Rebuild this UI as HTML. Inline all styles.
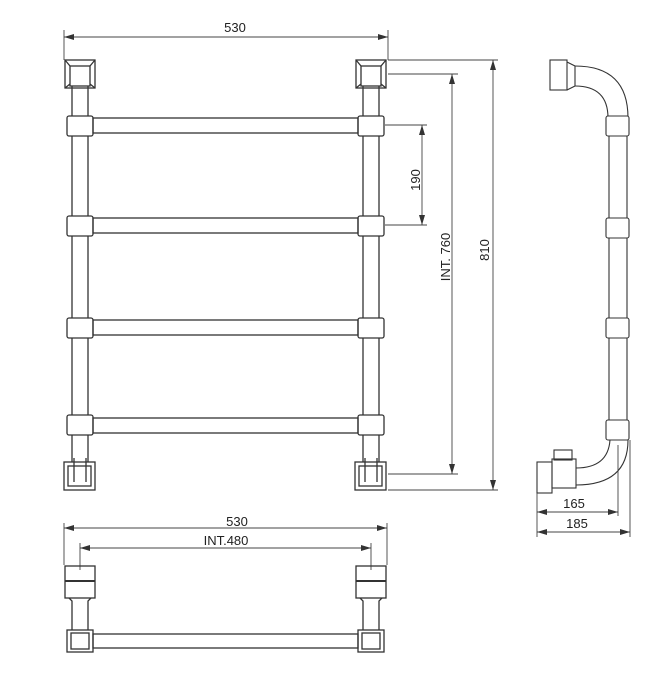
<!DOCTYPE html>
<html><head><meta charset="utf-8"><style>
html,body{margin:0;padding:0;background:#fff;}
svg{display:block;}
text{font-family:"Liberation Sans",sans-serif;font-size:13px;fill:#222;}
</style></head><body>
<svg width="671" height="685" viewBox="0 0 671 685" xmlns="http://www.w3.org/2000/svg">
<defs>
<marker id="a" viewBox="0 0 10 6" refX="10" refY="3" markerWidth="10" markerHeight="6" orient="auto-start-reverse" markerUnits="userSpaceOnUse"><path d="M0,0 L10,3 L0,6 z" fill="#333"/></marker>
</defs>
<g fill="none" stroke="#333" stroke-width="1.3">
<!-- front view posts -->
<g id="post">
<rect x="65" y="60" width="30" height="28"/>
<rect x="70" y="66" width="20" height="20"/>
<line x1="65" y1="60" x2="70" y2="66"/><line x1="95" y1="60" x2="90" y2="66"/>
<line x1="65" y1="88" x2="70" y2="84"/><line x1="95" y1="88" x2="90" y2="84"/>
<line x1="72" y1="86" x2="72" y2="462"/><line x1="88" y1="86" x2="88" y2="462"/>
<rect x="67" y="116" width="26" height="20" rx="2" fill="#fff"/>
<rect x="67" y="216" width="26" height="20" rx="2" fill="#fff"/>
<rect x="67" y="318" width="26" height="20" rx="2" fill="#fff"/>
<rect x="67" y="415" width="26" height="20" rx="2" fill="#fff"/>
<rect x="64" y="462" width="31" height="28"/>
<rect x="68" y="466" width="23" height="20"/>
<line x1="74" y1="458" x2="74" y2="482"/><line x1="86" y1="458" x2="86" y2="482"/>
</g>
<use href="#post" x="291"/>
<!-- rails -->
<rect x="93" y="118" width="265" height="15"/>
<rect x="93" y="218" width="265" height="15"/>
<rect x="93" y="320" width="265" height="15"/>
<rect x="93" y="418" width="265" height="15"/>
</g>
<g fill="none" stroke="#444" stroke-width="0.9">
<!-- 530 top -->
<line x1="64" y1="30" x2="64" y2="60"/><line x1="388" y1="30" x2="388" y2="60"/>
<line x1="64" y1="37" x2="388" y2="37" marker-start="url(#a)" marker-end="url(#a)"/>
<!-- 190 -->
<line x1="385" y1="125" x2="427" y2="125"/><line x1="385" y1="225" x2="427" y2="225"/>
<line x1="422" y1="125" x2="422" y2="225" marker-start="url(#a)" marker-end="url(#a)"/>
<!-- INT 760 -->
<line x1="388" y1="74" x2="458" y2="74"/><line x1="388" y1="474" x2="458" y2="474"/>
<line x1="452" y1="74" x2="452" y2="474" marker-start="url(#a)" marker-end="url(#a)"/>
<!-- 810 -->
<line x1="388" y1="60" x2="498" y2="60"/><line x1="388" y1="490" x2="498" y2="490"/>
<line x1="493" y1="60" x2="493" y2="490" marker-start="url(#a)" marker-end="url(#a)"/>
</g>
<text x="235" y="32" text-anchor="middle">530</text>
<text transform="translate(420,180) rotate(-90)" text-anchor="middle">190</text>
<text transform="translate(450,257) rotate(-90)" text-anchor="middle">INT. 760</text>
<text transform="translate(489,250) rotate(-90)" text-anchor="middle">810</text>

<!-- side view -->
<g fill="none" stroke="#333" stroke-width="1.1">
<rect x="550" y="60" width="17" height="30"/>
<path d="M567,62 L575,66 L575,86 L567,90"/>
<path d="M575,66 Q628,66 628,118"/>
<path d="M575,86 Q608,86 608,118"/>
<line x1="609" y1="136" x2="609" y2="420"/><line x1="627" y1="136" x2="627" y2="420"/>
<rect x="606" y="116" width="23" height="20" rx="2" fill="#fff"/>
<rect x="606" y="218" width="23" height="20" rx="2" fill="#fff"/>
<rect x="606" y="318" width="23" height="20" rx="2" fill="#fff"/>
<rect x="606" y="420" width="23" height="20" rx="2" fill="#fff"/>
<path d="M628,440 Q628,485 576,485"/>
<path d="M610,440 Q608,468 576,468"/>
<rect x="537" y="462" width="15" height="31"/>
<rect x="552" y="459" width="24" height="29"/>
<rect x="554" y="450" width="18" height="10"/>
</g>
<g fill="none" stroke="#444" stroke-width="0.9">
<line x1="537" y1="493" x2="537" y2="537"/>
<line x1="618" y1="445" x2="618" y2="516"/>
<line x1="630" y1="440" x2="630" y2="537"/>
<line x1="537" y1="512" x2="618" y2="512" marker-start="url(#a)" marker-end="url(#a)"/>
<line x1="537" y1="532" x2="630" y2="532" marker-start="url(#a)" marker-end="url(#a)"/>
</g>
<text x="574" y="508" text-anchor="middle">165</text>
<text x="577" y="528" text-anchor="middle">185</text>

<!-- bottom view -->
<g fill="none" stroke="#444" stroke-width="0.9">
<line x1="64" y1="523" x2="64" y2="565"/><line x1="387" y1="523" x2="387" y2="565"/>
<line x1="64" y1="528" x2="387" y2="528" marker-start="url(#a)" marker-end="url(#a)"/>
<line x1="80" y1="543" x2="80" y2="570"/><line x1="371" y1="543" x2="371" y2="570"/>
<line x1="80" y1="548" x2="371" y2="548" marker-start="url(#a)" marker-end="url(#a)"/>
</g>
<text x="237" y="526" text-anchor="middle">530</text>
<text x="226" y="545" text-anchor="middle">INT.480</text>
<g fill="none" stroke="#333" stroke-width="1.3">
<g id="bp">
<rect x="65" y="566" width="30" height="32"/>
<line x1="65" y1="581" x2="95" y2="581" stroke-width="2"/>
<path d="M69,598 L72,601 L72,630 M91,598 L88,601 L88,630"/>
<rect x="67" y="630" width="26" height="22"/>
<rect x="71" y="633" width="18" height="16"/>
</g>
<use href="#bp" x="291"/>
<rect x="93" y="634" width="265" height="14"/>
</g>
</svg>
</body></html>
